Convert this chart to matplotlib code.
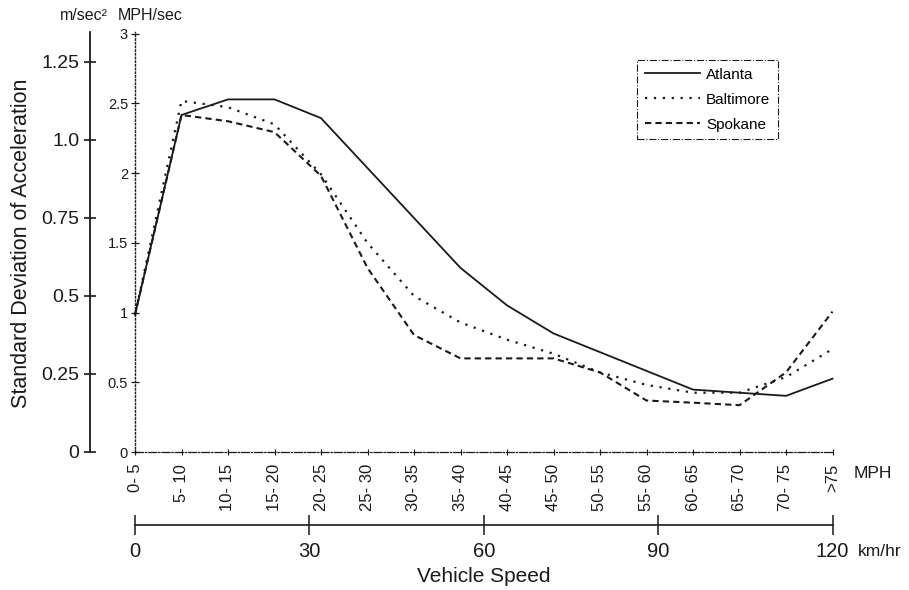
import numpy as np
import matplotlib
matplotlib.use("Agg")
import matplotlib.pyplot as plt

plt.rcParams['font.family'] = ['Liberation Sans', 'DejaVu Sans']

# speed bins (MPH) and std. dev. of acceleration in m/sec^2
speed_bins = ['0- 5', '5- 10', '10- 15', '15- 20', '20- 25', '25- 30', '30- 35', '35- 40',
              '40- 45', '45- 50', '50- 55', '55- 60', '60- 65', '65- 70', '70- 75', '>75']
atlanta = [0.44, 1.08, 1.13, 1.13, 1.07, 0.91, 0.75, 0.59, 0.47, 0.38, 0.32, 0.26, 0.20, 0.19, 0.18, 0.235]
baltimore = [0.44, 1.125, 1.105, 1.05, 0.89, 0.67, 0.50, 0.415, 0.36, 0.315, 0.255, 0.215, 0.19, 0.19, 0.24, 0.33]
spokane = [0.44, 1.08, 1.06, 1.025, 0.885, 0.59, 0.375, 0.30, 0.30, 0.30, 0.255, 0.165, 0.158, 0.15, 0.255, 0.45]

ms2_ticks = [0, 0.25, 0.5, 0.75, 1.0, 1.25]
ms2_labels = ['0', '0.25', '0.5', '0.75', '1.0', '1.25']
mph_ticks = [0, 0.5, 1, 1.5, 2, 2.5, 3]
mph_labels = ['0', '0.5', '1', '1.5', '2', '2.5', '3']
kmh_ticks = [0, 30, 60, 90, 120]

MPHS = 0.44704   # 1 MPH/sec in m/sec^2
KMH_PER_BIN = 8  # one speed bin ~ 8 km/hr

ink = '#1a1a1a'
W, H = 909, 590

fig = plt.figure(figsize=(W / 100, H / 100), dpi=100)
ax = fig.add_axes([90 / W, (H - 452) / H, 770 / W, 420 / H])

x = np.arange(len(speed_bins))
ax.plot(x, atlanta, color=ink, lw=1.3, label='Atlanta')
ax.plot(x, baltimore, color=ink, lw=1.6, ls=(0, (1, 3)), label='Baltimore')
ax.plot(x, spokane, color=ink, lw=1.5, ls=(0, (3, 2)), label='Spokane')

x0 = (90 - 135) / 46.5
x1 = (860 - 135) / 46.5
ax.set_xlim(x0, x1)
ax.set_ylim(0, 1.346)

ax.spines['top'].set_visible(False)
ax.spines['right'].set_visible(False)
ax.spines['left'].set_linewidth(1.3)
ax.spines['left'].set_color(ink)
ax.spines['bottom'].set_bounds(0, len(speed_bins) - 1)
ax.spines['bottom'].set_linestyle('-.')
ax.spines['bottom'].set_linewidth(0.9)
ax.spines['bottom'].set_color(ink)

ax.set_yticks(ms2_ticks)
ax.set_yticklabels(ms2_labels)
ax.tick_params(axis='y', direction='inout', length=9, width=1.2, labelsize=14, pad=3, colors=ink)
ax.set_xticks(x)
ax.set_xticklabels(speed_bins, rotation=90, fontsize=12)
ax.tick_params(axis='x', direction='inout', length=5, width=0.8, pad=6, colors=ink)

# MPH/sec axis, dotted, sitting on the first speed bin
loc = (0 - x0) / (x1 - x0)
sec = ax.secondary_yaxis(loc, functions=(lambda v: v / MPHS, lambda v: v * MPHS))
sec.set_yticks(mph_ticks)
sec.set_yticklabels(mph_labels)
sec.tick_params(direction='inout', length=6, width=0.9, labelsize=10.5, pad=2, colors=ink)
for s in ['left', 'right']:
    sec.spines[s].set_linestyle(':')
    sec.spines[s].set_linewidth(1.0)
    sec.spines[s].set_color(ink)
sec.spines['right'].set_visible(False)

# km/hr axis below
kloc = (452 - 525) / 420
kax = ax.secondary_xaxis(kloc, functions=(lambda i: i * KMH_PER_BIN, lambda k: k / KMH_PER_BIN))
kax.set_xticks(kmh_ticks)
kax.tick_params(direction='inout', length=15, width=1.1, labelsize=14.5, pad=5, colors=ink)
kax.spines['bottom'].set_bounds(0, 120)
kax.spines['bottom'].set_linewidth(1.2)
kax.spines['bottom'].set_color(ink)

fig.text(873 / W, 1 - 473 / H, 'MPH', fontsize=12.5, ha='center', va='center', color=ink)
fig.text(880 / W, 1 - 552 / H, 'km/hr', fontsize=12.5, ha='center', va='center', color=ink)
fig.text(484 / W, 1 - 577 / H, 'Vehicle Speed', fontsize=15, ha='center', va='center', color=ink)
fig.text(22 / W, 1 - 243 / H, 'Standard Deviation of Acceleration', fontsize=15.5, rotation=90,
         ha='center', va='center', color=ink)
fig.text(84 / W, 1 - 15 / H, 'm/sec²', fontsize=11.5, ha='center', va='center', color=ink)
fig.text(150 / W, 1 - 15 / H, 'MPH/sec', fontsize=11.5, ha='center', va='center', color=ink)

leg = ax.legend(loc='upper right', bbox_to_anchor=(778 / W, 1 - 60 / H), bbox_transform=fig.transFigure,
                fancybox=False, fontsize=11, handlelength=3.6, labelspacing=0.72, borderpad=0.5,
                handletextpad=0.4, borderaxespad=0, framealpha=1)
leg.get_frame().set_linestyle('-.')
leg.get_frame().set_linewidth(0.8)
leg.get_frame().set_edgecolor(ink)

fig.savefig('out.png', dpi=100)
